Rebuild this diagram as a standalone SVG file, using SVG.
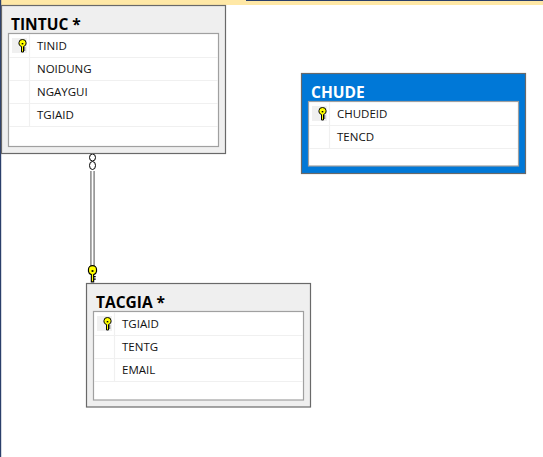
<svg xmlns="http://www.w3.org/2000/svg" width="543" height="457" viewBox="0 0 543 457">
<style>
.outer{fill:#efefef;stroke:#696969;stroke-width:1.2}
.sel{fill:#0078d7;stroke:#696969;stroke-width:1.2}
.inner{fill:#fff;stroke:#a0a0a0;stroke-width:1.2}
.row{stroke:#f0f0f0;stroke-width:1.2;fill:none}
.keybg{fill:#f0f0f0}
.title{font:bold 15.5px "Open Sans","Noto Sans",sans-serif;fill:#000}
.col{font:11.5px "Open Sans","Noto Sans",sans-serif;fill:#111}
.key{fill:#ffff00;stroke:#000;stroke-width:1}
</style>
<defs>
<g id="k">
<path class="key" d="M-3.500-3.500a3.500 3 0 0 1 7 0v1.500a3.500 3 0 0 1-2.500 2.500v5.500h-2v-5.500a3.500 3 0 0 1-2.500-2.500z"/>
<path d="M-0.800-3h1.600v1.400h-1.600z" fill="#000"/>
<path d="M1 2h1.800M1 4h1.800" stroke="#000" stroke-width="1"/>
</g>
</defs>
<rect x="0" y="0" width="543" height="457" fill="#fff"/>
<rect x="0" y="0" width="543" height="5" fill="#ffe8a6"/>
<rect x="246" y="0" width="297" height="1" fill="#2b3f6b"/>
<rect x="0" y="0" width="1.200" height="457" fill="#2b3f6b"/>
<g id="connectors">
<path d="M92.500 171V267" stroke="#9a9a9a" stroke-width="5" fill="none"/>
<path d="M92.500 171V267" stroke="#fff" stroke-width="1.500" fill="none"/>
<ellipse cx="92.500" cy="157.500" rx="3" ry="3.500" fill="#fff" stroke="#000"/>
<ellipse cx="92.500" cy="165.500" rx="3" ry="4" fill="#fff" stroke="#000"/>
<g transform="translate(92.500,274) scale(1.150,1.300)"><use href="#k"/></g>
</g>
<g id="node-tintuc">
<rect class="outer" x="1.500" y="5.500" width="224" height="148"/>
<text class="title" x="11" y="30">TINTUC *</text>
<rect class="inner" x="8.500" y="33.500" width="210" height="113"/>
<path class="row" d="M9 57.500H218M9 80.500H218M9 103.500H218M9 126.500H218M29.500 34V126"/>
<rect class="keybg" x="12" y="38" width="15" height="15"/>
<use href="#k" x="22.500" y="46"/>
<text class="col" x="37" y="50">TINID</text>
<text class="col" x="37" y="73">NOIDUNG</text>
<text class="col" x="37" y="96">NGAYGUI</text>
<text class="col" x="37" y="119">TGIAID</text>
</g>
<g id="node-chude">
<rect class="sel" x="301.500" y="73.500" width="224" height="100"/>
<text class="title" x="311" y="98" style="fill:#fff">CHUDE</text>
<rect class="inner" x="308.500" y="101.500" width="210" height="64.500"/>
<path class="row" d="M309 125.500H518M309 148.500H518M329.500 102V148"/>
<rect class="keybg" x="312" y="106" width="15" height="15"/>
<use href="#k" x="322.500" y="114"/>
<text class="col" x="337" y="118">CHUDEID</text>
<text class="col" x="337" y="141">TENCD</text>
</g>
<g id="node-tacgia">
<rect class="outer" x="86.500" y="283.500" width="224" height="123.500"/>
<text class="title" x="96" y="308">TACGIA *</text>
<rect class="inner" x="93.500" y="311.500" width="210" height="88.500"/>
<path class="row" d="M94 335.500H303M94 358.500H303M94 381.500H303M114.500 312V381"/>
<rect class="keybg" x="97" y="316" width="15" height="15"/>
<use href="#k" x="107.500" y="324"/>
<text class="col" x="122" y="328">TGIAID</text>
<text class="col" x="122" y="351">TENTG</text>
<text class="col" x="122" y="374">EMAIL</text>
</g>
</svg>
